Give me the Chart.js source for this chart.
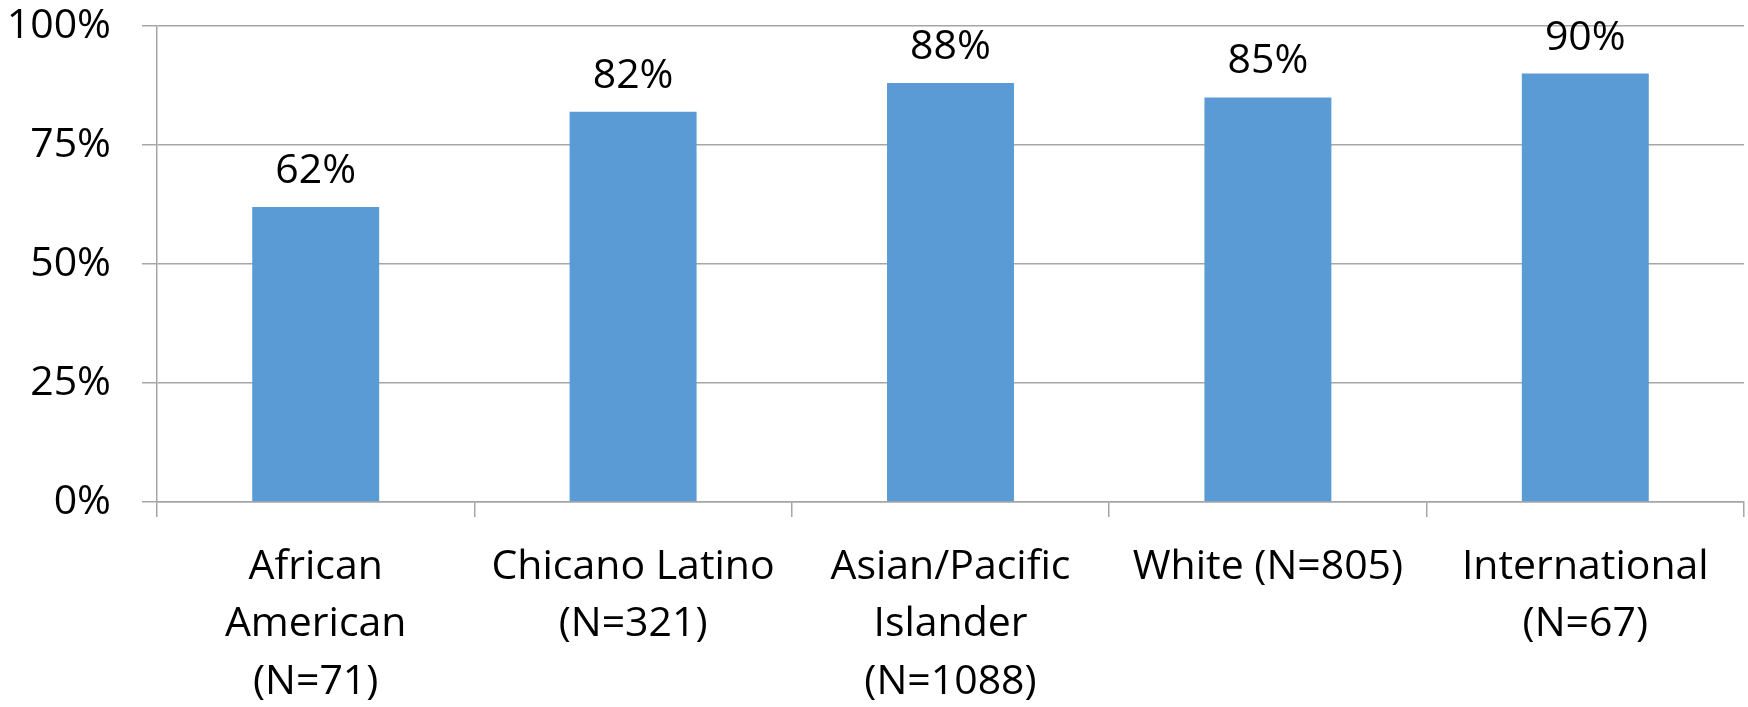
<!DOCTYPE html>
<html>
<head>
<meta charset="utf-8">
<script src="https://cdn.jsdelivr.net/npm/chart.js@4/dist/chart.umd.min.js"></script>
<style>
  html, body { margin: 0; padding: 0; background: #fff; }
  #wrap { width: 1748px; height: 707px; position: relative; }
</style>
</head>
<body>
<div id="wrap"><canvas id="chart"></canvas></div>
<script>
// categories and values
const categories = [
  ['African', 'American', '(N=71)'],
  ['Chicano Latino', '(N=321)'],
  ['Asian/Pacific', 'Islander', '(N=1088)'],
  'White (N=805)',
  ['International', '(N=67)']
];
const percents = [62, 82, 88, 85, 90];
const yTicks = [0, 25, 50, 75, 100];

const FONT = '"Open Sans", "Liberation Sans", sans-serif';
const GRID = '#a6a6a6';

// value labels above the bars
const barLabels = {
  id: 'barLabels',
  afterDatasetsDraw(chart) {
    const { ctx } = chart;
    const meta = chart.getDatasetMeta(0);
    ctx.save();
    ctx.font = '41px ' + FONT;
    ctx.fillStyle = '#000';
    ctx.textAlign = 'center';
    ctx.textBaseline = 'alphabetic';
    meta.data.forEach((bar, i) => {
      ctx.fillText(percents[i] + '%', bar.x, bar.y - 24);
    });
    ctx.restore();
  }
};

new Chart(document.getElementById('chart'), {
  type: 'bar',
  data: {
    labels: categories,
    datasets: [{
      data: percents,
      backgroundColor: '#5b9bd5',
      borderWidth: 0,
      categoryPercentage: 0.4,
      barPercentage: 1
    }]
  },
  options: {
    responsive: true,
    maintainAspectRatio: false,
    animation: false,
    layout: { padding: { top: 26, right: 4, left: 0, bottom: 0 } },
    plugins: { legend: { display: false }, tooltip: { enabled: false } },
    scales: {
      x: {
        offset: true,
        grid: { display: true, drawOnChartArea: false, drawTicks: true, tickLength: 15, color: GRID, lineWidth: 1.5 },
        border: { display: true, color: GRID, width: 1.5 },
        ticks: { color: '#000', font: { family: FONT, size: 41, lineHeight: 1.41 }, maxRotation: 0, autoSkip: false, padding: 21 },
        afterFit(scale) { scale.height = 205; }
      },
      y: {
        min: 0,
        max: 100,
        afterBuildTicks(scale) { scale.ticks = yTicks.map(v => ({ value: v })); },
        grid: { color: GRID, lineWidth: 1.5, tickLength: 15 },
        border: { display: true, color: GRID, width: 1.5 },
        ticks: { color: '#000', font: { family: FONT, size: 41 }, padding: 31, callback: v => v + '%' },
        afterFit(scale) {
          scale.width = 157;
          scale.paddingTop = 0;
          scale.paddingBottom = 0;
        }
      }
    }
  },
  plugins: [barLabels]
});
</script>
</body>
</html>
